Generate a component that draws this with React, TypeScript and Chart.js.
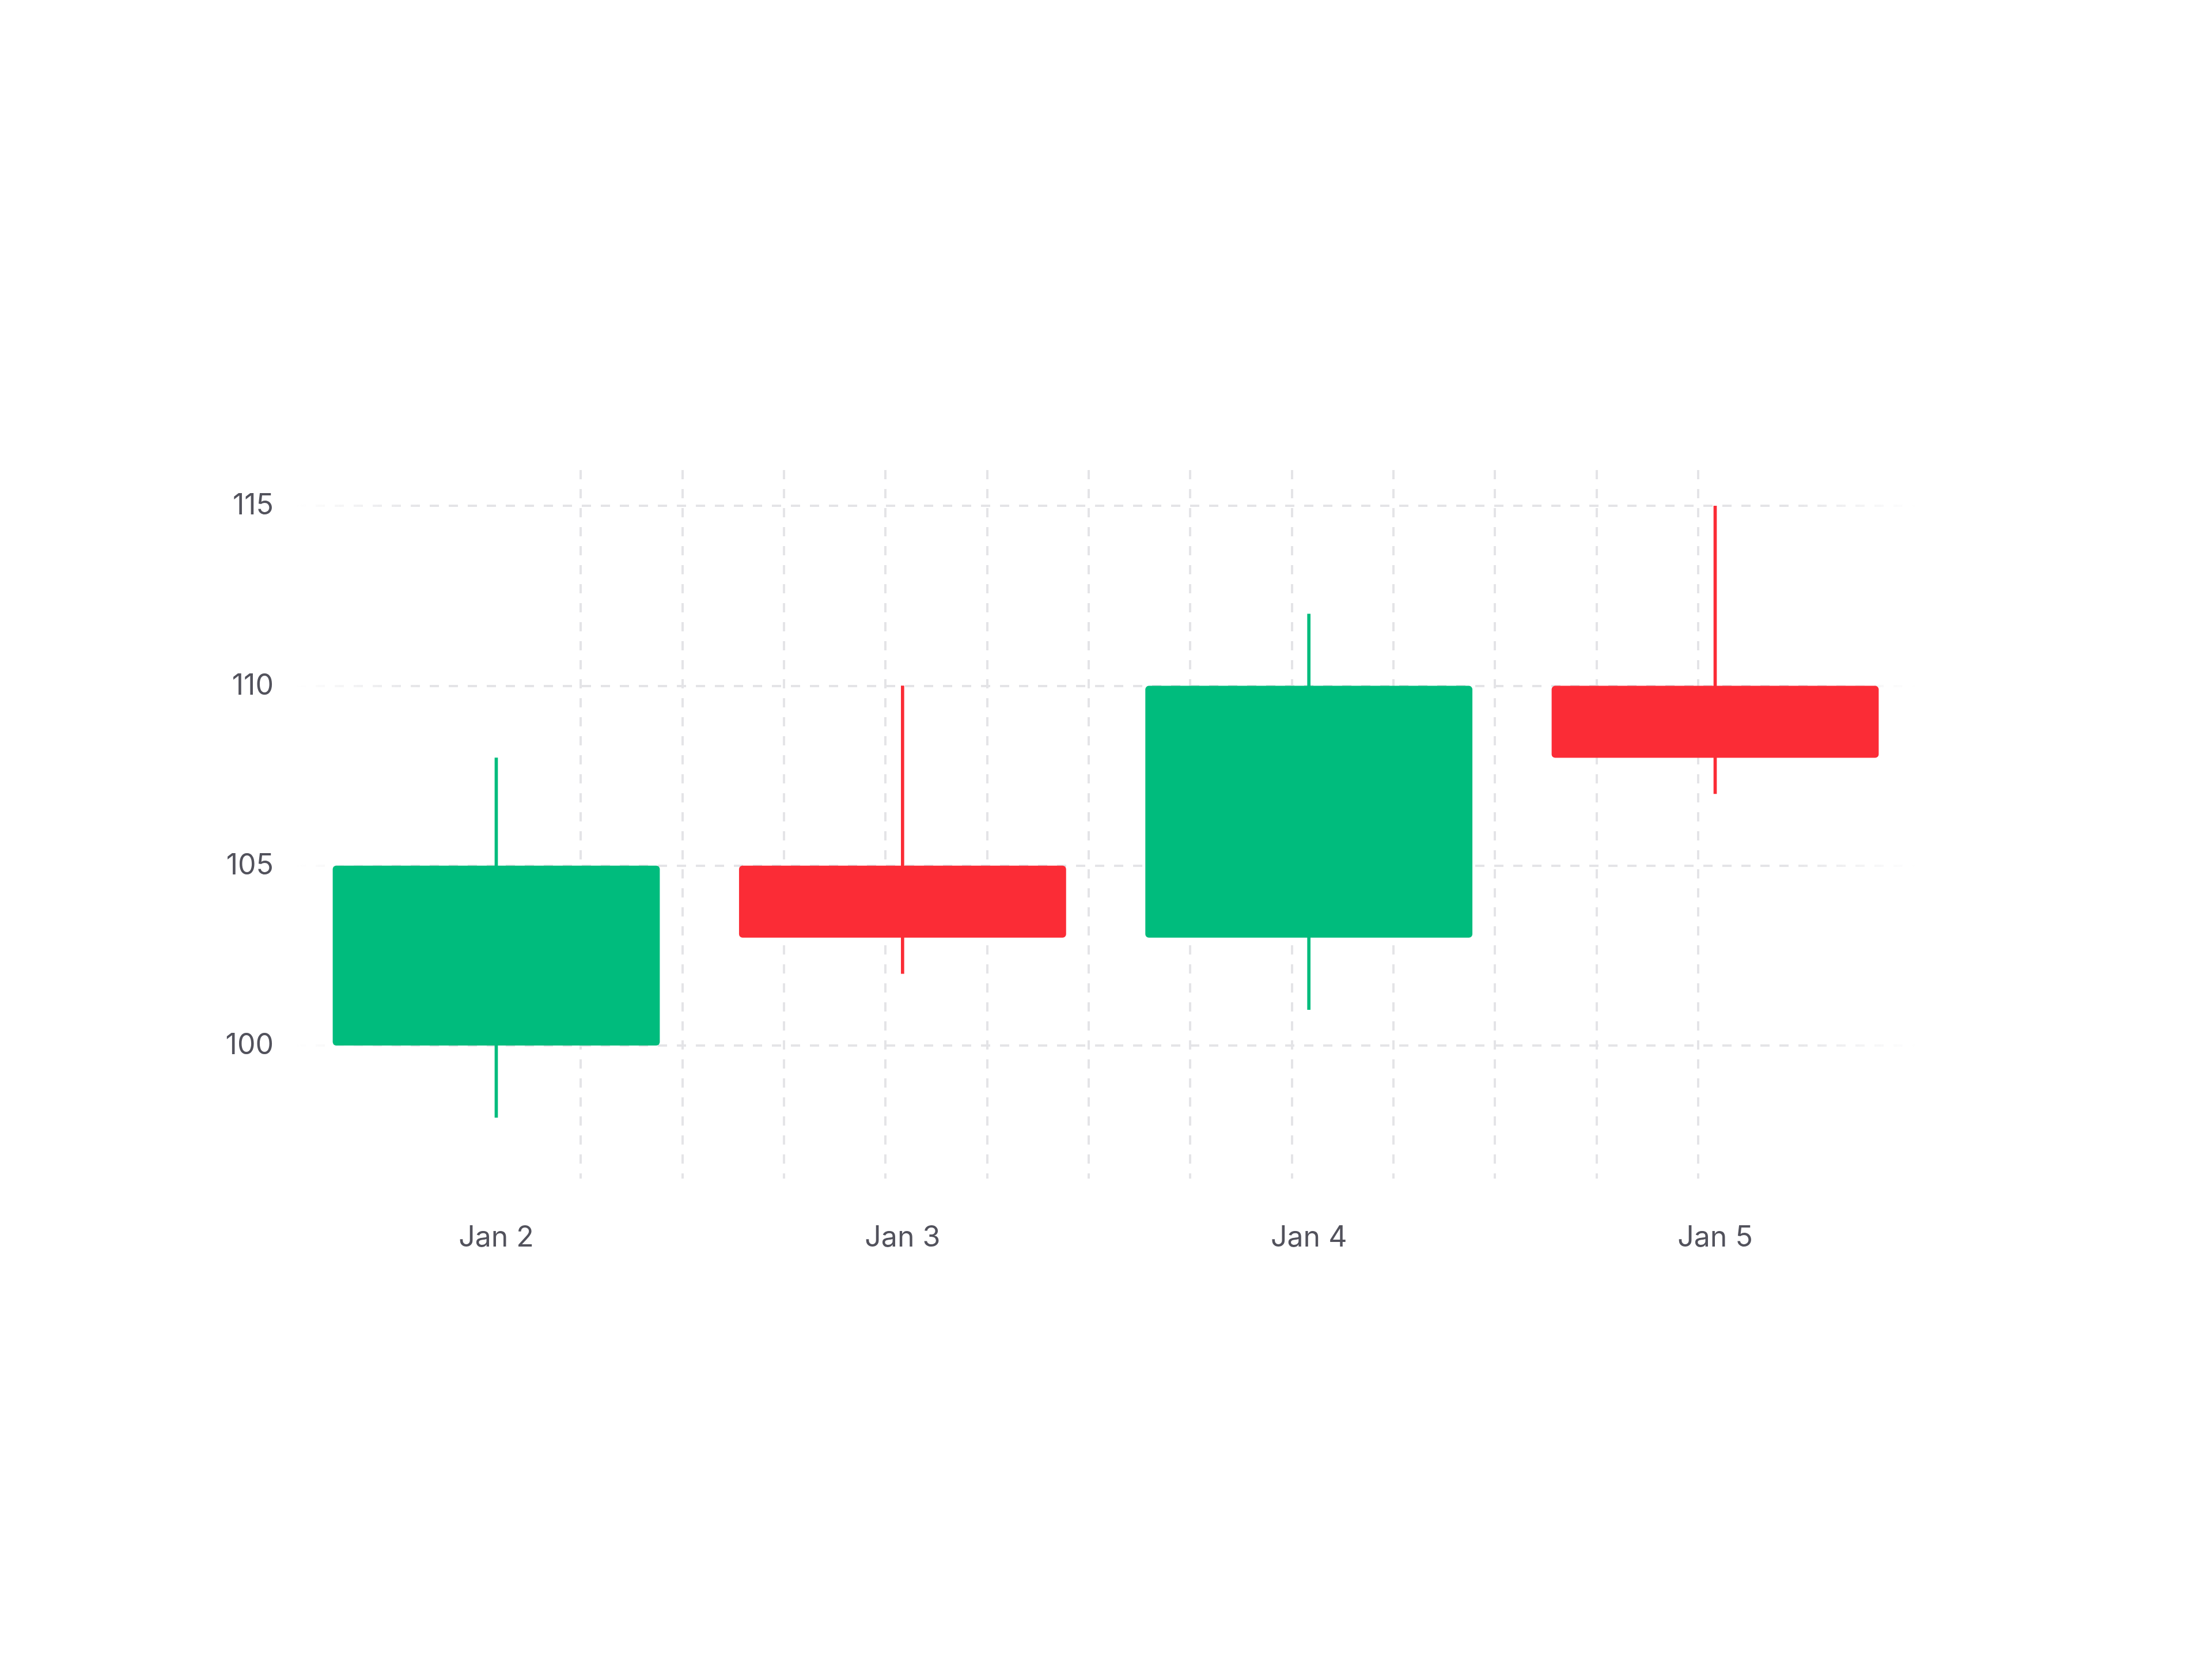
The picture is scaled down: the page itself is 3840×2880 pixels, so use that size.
import { useEffect, useRef } from "react";
import { Chart, registerables, type ChartConfiguration } from "chart.js";

Chart.register(...registerables);

// candles, x in hours after Jan 2 00:00
const dates = ["Jan 2", "Jan 3", "Jan 4", "Jan 5"];
const candleHours = [0, 24, 48, 72];
const opens = [100, 105, 103, 110];
const closes = [105, 103, 110, 108];
const highs = [108, 110, 112, 115];
const lows = [98, 102, 101, 107];

const yTicks = [100, 105, 110, 115];
const gridHours = [5, 11, 17, 23, 29, 35, 41, 47, 53, 59, 65, 71];

const UP = "#00bc7d";
const DOWN = "#fb2c36";
const GRID = "#e4e4e7";
const TEXT = "#52525c";
const FONT = { family: "Inter", size: 50 };

export default function App() {
  const canvasRef = useRef<HTMLCanvasElement | null>(null);
  const chartRef = useRef<Chart | null>(null);

  useEffect(() => {
    document.body.style.margin = "0";
    if (!canvasRef.current) return;

    const colors = opens.map((o, i) => (closes[i] >= o ? UP : DOWN));

    const fadeGrid = (ctx: any) => {
      const chart = ctx.chart;
      const area = chart.chartArea;
      if (!area) return GRID;
      const g = chart.ctx.createLinearGradient(area.left, 0, area.right, 0);
      g.addColorStop(0, "rgba(228,228,231,0)");
      g.addColorStop(0.08, GRID);
      g.addColorStop(0.92, GRID);
      g.addColorStop(1, "rgba(228,228,231,0)");
      return g;
    };

    const config: ChartConfiguration<"bar"> = {
      type: "bar",
      data: {
        datasets: [
          {
            label: "wick",
            data: candleHours.map((h, i) => ({ x: h, y: [lows[i], highs[i]] })) as any,
            backgroundColor: colors,
            barThickness: 5,
            grouped: false,
            order: 2,
          },
          {
            label: "body",
            data: candleHours.map((h, i) => ({ x: h, y: [opens[i], closes[i]] })) as any,
            backgroundColor: colors,
            borderRadius: 6,
            borderSkipped: false,
            categoryPercentage: 1,
            barPercentage: 0.805,
            grouped: false,
            order: 1,
          },
        ],
      },
      options: {
        animation: false,
        responsive: true,
        maintainAspectRatio: false,
        devicePixelRatio: 1,
        layout: { padding: { top: 816, left: 315, right: 516, bottom: 684 } },
        plugins: { legend: { display: false }, tooltip: { enabled: false } },
        scales: {
          x: {
            type: "linear",
            position: "bottom",
            min: -11.79,
            max: 83.79,
            offset: false,
            afterBuildTicks: (scale) => {
              scale.ticks = candleHours.map((v) => ({ value: v }));
            },
            afterFit: (scale) => {
              scale.height = 150;
            },
            grid: { display: false, offset: false, drawTicks: false },
            border: { display: false },
            ticks: {
              autoSkip: false,
              maxRotation: 0,
              padding: 73,
              color: TEXT,
              font: FONT,
              callback: (value) => dates[candleHours.indexOf(Number(value))] ?? "",
            },
          },
          xGrid: {
            type: "linear",
            position: "bottom",
            min: -11.79,
            max: 83.79,
            offset: false,
            afterBuildTicks: (scale) => {
              scale.ticks = gridHours.map((v) => ({ value: v }));
            },
            afterFit: (scale) => {
              scale.height = 0;
            },
            grid: {
              display: true,
              offset: false,
              drawTicks: false,
              color: GRID,
              lineWidth: 4,
            },
            border: { display: false, dash: [16, 17] },
            ticks: { display: false },
          },
          y: {
            type: "linear",
            min: 96.3,
            max: 116,
            afterBuildTicks: (scale) => {
              scale.ticks = yTicks.map((v) => ({ value: v }));
            },
            afterFit: (scale) => {
              scale.width = 200;
            },
            grid: { drawTicks: false, color: fadeGrid, lineWidth: 4 },
            border: { display: false, dash: [16, 17] },
            ticks: { padding: 40, color: TEXT, font: FONT },
          },
        },
      },
    };

    chartRef.current?.destroy();
    chartRef.current = new Chart(canvasRef.current, config);

    return () => {
      chartRef.current?.destroy();
    };
  }, []);

  return (
    <div style={{ position: "fixed", top: 0, left: 0, width: "100vw", height: "100vh", background: "#fff" }}>
      <canvas ref={canvasRef} />
    </div>
  );
}
